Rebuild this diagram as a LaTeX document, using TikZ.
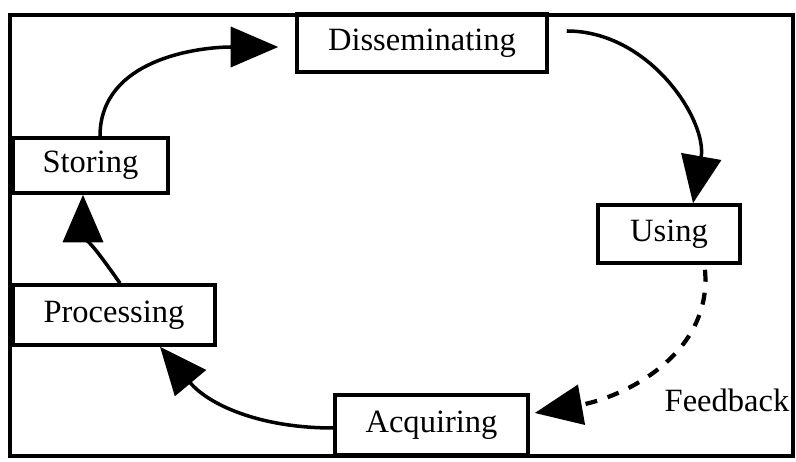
\documentclass[tikz,border=0pt]{standalone}
\usepackage{fontspec}
\setmainfont{Liberation Serif}
\usetikzlibrary{arrows.meta}

\begin{document}
\begin{tikzpicture}[
        stage/.style={draw, line width=2pt, inner sep=0pt, font=\fontsize{18.5}{22}\selectfont},
        flow/.style={line width=2pt, -{Triangle[length=0.95cm, width=0.8cm]}},
    ]

            \useasboundingbox (0,0) rectangle (15.92,9.24);

            %----- FRAME -----
            \draw[line width=2.6pt] (0.2,0.12) rectangle (15.86,8.94);

            %----- STAGES -----
            \node[stage, minimum width=5cm, minimum height=1.16cm] (dis) at (8.44,8.38) {Disseminating};
            \node[stage, minimum width=2.84cm, minimum height=1.16cm] (use) at (13.38,4.56) {Using};
            \node[stage, minimum width=3.86cm, minimum height=1.2cm] (acq) at (8.63,0.74) {Acquiring};
            \node[stage, minimum width=4.04cm, minimum height=1.2cm] (proc) at (2.28,2.94) {Processing};
            \node[stage, minimum width=3.1cm, minimum height=1.1cm] (stor) at (1.81,5.93) {Storing};
            \node[font=\fontsize{18.5}{22}\selectfont] (fb) at (14.54,1.24) {Feedback};

            %----- CYCLE ARROWS -----
            \draw[flow] ([xshift=0.19cm]stor.north) to[out=90, in=180] ([xshift=-0.34cm, yshift=-0.08cm]dis.west);
            \draw[flow] ([xshift=0.36cm, yshift=0.24cm]dis.east) to[out=0, in=80] ([xshift=0.48cm]use.north);
            \draw[flow] ([xshift=0.12cm]proc.north) to[out=125, in=-90] ([xshift=-0.15cm]stor.south);
            \draw[flow] ([yshift=-0.06cm]acq.west) to[out=180, in=-50] ([xshift=0.92cm]proc.south);

            %----- FEEDBACK (DASHED) -----
            \draw[flow, line width=2.4pt, dash pattern=on 0.24cm off 0.22cm]
                ([xshift=0.72cm, yshift=-0.1cm]use.south) to[out=-85, in=10] ([xshift=0.1cm, yshift=0.24cm]acq.east);

\end{tikzpicture}
\end{document}
